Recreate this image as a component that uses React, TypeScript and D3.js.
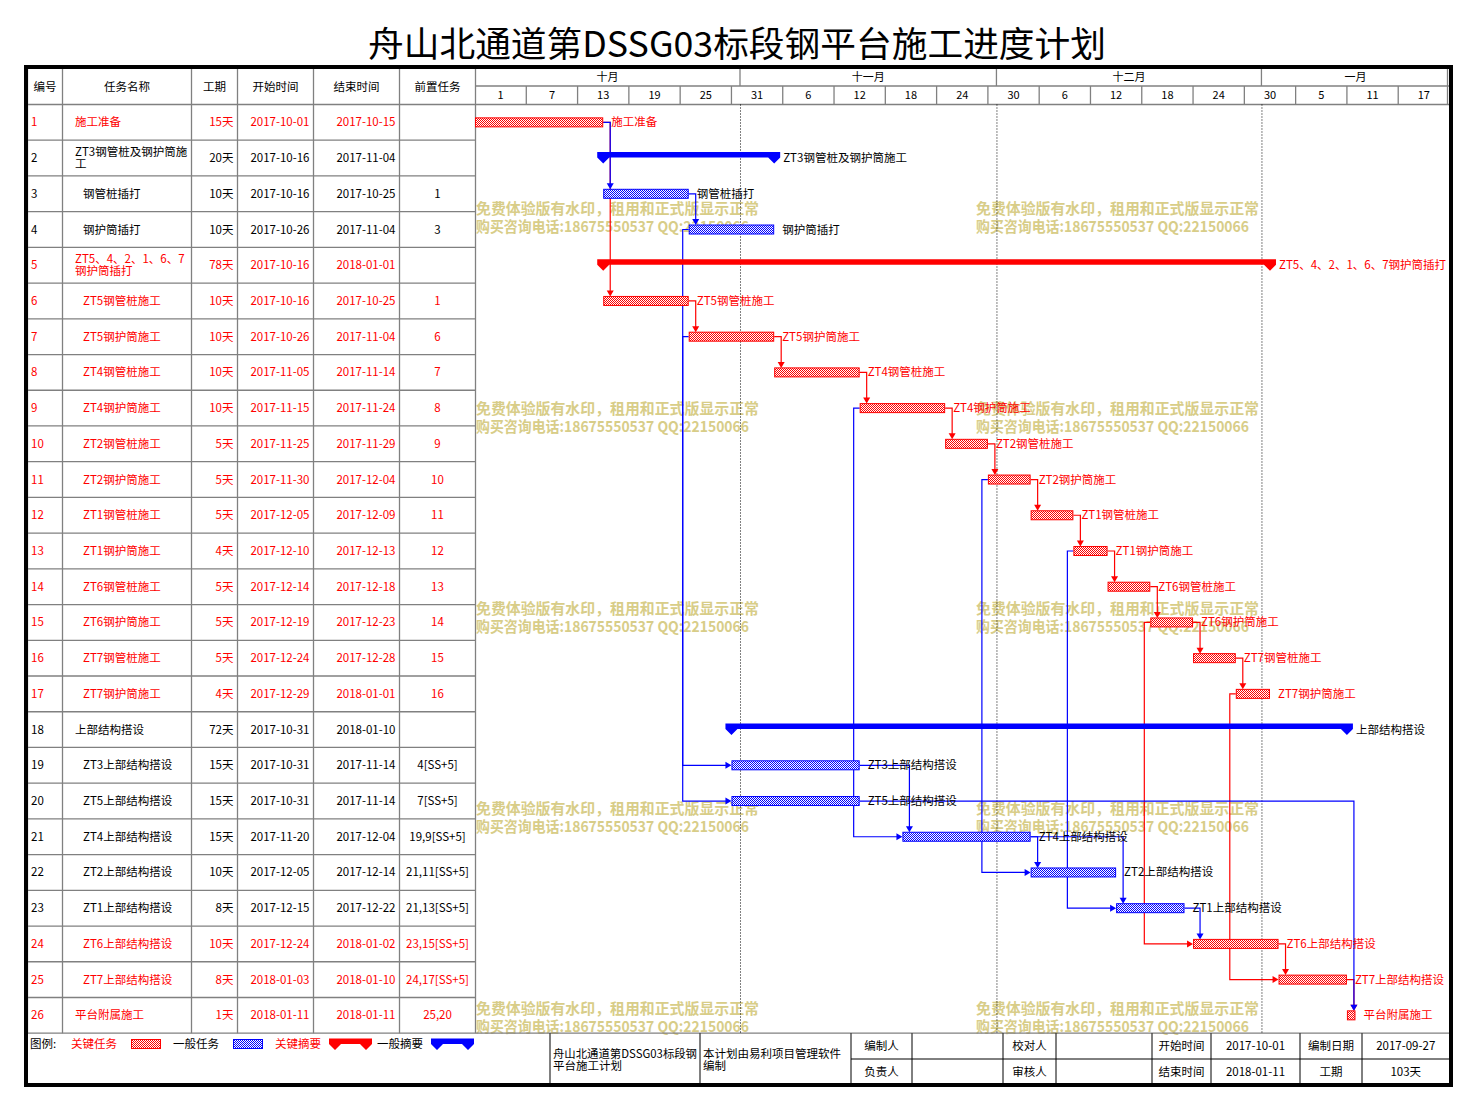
import React from 'react';
import * as d3 from 'd3';

// ---------------- data ----------------
const taskIds = d3.range(1, 27);
const taskNames = ["施工准备", "ZT3钢管桩及钢护筒施工", "钢管桩插打", "钢护筒插打", "ZT5、4、2、1、6、7钢护筒插打", "ZT5钢管桩施工", "ZT5钢护筒施工", "ZT4钢管桩施工", "ZT4钢护筒施工", "ZT2钢管桩施工", "ZT2钢护筒施工", "ZT1钢管桩施工", "ZT1钢护筒施工", "ZT6钢管桩施工", "ZT6钢护筒施工", "ZT7钢管桩施工", "ZT7钢护筒施工", "上部结构搭设", "ZT3上部结构搭设", "ZT5上部结构搭设", "ZT4上部结构搭设", "ZT2上部结构搭设", "ZT1上部结构搭设", "ZT6上部结构搭设", "ZT7上部结构搭设", "平台附属施工"];
const durations = [15, 20, 10, 10, 78, 10, 10, 10, 10, 5, 5, 5, 4, 5, 5, 5, 4, 72, 15, 15, 15, 10, 8, 10, 8, 1];
const startDates = ["2017-10-01", "2017-10-16", "2017-10-16", "2017-10-26", "2017-10-16", "2017-10-16", "2017-10-26", "2017-11-05", "2017-11-15", "2017-11-25", "2017-11-30", "2017-12-05", "2017-12-10", "2017-12-14", "2017-12-19", "2017-12-24", "2017-12-29", "2017-10-31", "2017-10-31", "2017-10-31", "2017-11-20", "2017-12-05", "2017-12-15", "2017-12-24", "2018-01-03", "2018-01-11"];
const endDates = ["2017-10-15", "2017-11-04", "2017-10-25", "2017-11-04", "2018-01-01", "2017-10-25", "2017-11-04", "2017-11-14", "2017-11-24", "2017-11-29", "2017-12-04", "2017-12-09", "2017-12-13", "2017-12-18", "2017-12-23", "2017-12-28", "2018-01-01", "2018-01-10", "2017-11-14", "2017-11-14", "2017-12-04", "2017-12-14", "2017-12-22", "2018-01-02", "2018-01-10", "2018-01-11"];
const predecessors = ["", "", "1", "3", "", "1", "6", "7", "8", "9", "10", "11", "12", "13", "14", "15", "16", "", "4[SS+5]", "7[SS+5]", "19,9[SS+5]", "21,11[SS+5]", "21,13[SS+5]", "23,15[SS+5]", "24,17[SS+5]", "25,20"];
const criticalTasks = [1, 5, 6, 7, 8, 9, 10, 11, 12, 13, 14, 15, 16, 17, 24, 25, 26];
const summaryTasks = [2, 5, 18];
const topLevelTasks = [1, 2, 5, 18, 26];
const columnHeaders = ["编号", "任务名称", "工期", "开始时间", "结束时间", "前置任务"];
const monthLabels = ["十月", "十一月", "十二月", "一月"];
const titleText = "舟山北通道第DSSG03标段钢平台施工进度计划";
const watermarkLines = ["免费体验版有水印，租用和正式版显示正常", "购买咨询电话:18675550537 QQ:22150066"];
const legendItems = [
  { label: "关键任务", kind: "task", critical: true },
  { label: "一般任务", kind: "task", critical: false },
  { label: "关键摘要", kind: "summary", critical: true },
  { label: "一般摘要", kind: "summary", critical: false },
];
const footerProject = ["舟山北通道第DSSG03标段钢", "平台施工计划"];
const footerSoftware = ["本计划由易利项目管理软件", "编制"];
const footerCells = [
  ["编制人", "", "校对人", "", "开始时间", "2017-10-01", "编制日期", "2017-09-27"],
  ["负责人", "", "审核人", "", "结束时间", "2018-01-11", "工期", "103天"],
];

// ---------------- layout ----------------
const FONT = "'Noto Sans CJK SC', 'Noto Sans', sans-serif";
const RED = "#ff0000";
const BLUE = "#0000ff";
const GRID = "#808080";
const colX = [27.5, 62.5, 191.5, 237.5, 313.5, 399.5, 475.5];
const chartLeft = 475;
const chartRight = 1449.5;
const headTop = 68.5;
const monthBottom = 86;
const headBottom = 104.5;
const rowsBottom = 1033.2;
const footBottom = 1083.5;
const footCols = [550, 700, 851, 912, 1003, 1056, 1152, 1211, 1300, 1362, 1449.5];
const footMid = 1059;

const parse = d3.timeParse("%Y-%m-%d");

function wrapName(s: string, maxW: number): string[] {
  const lines: string[] = [];
  let cur = "";
  let w = 0;
  for (const ch of Array.from(s)) {
    const cw = /[\u0000-\u00ff]/.test(ch) ? 6.5 : 12;
    if (w + cw > maxW && cur) {
      lines.push(cur);
      cur = "";
      w = 0;
    }
    cur += ch;
    w += cw;
  }
  if (cur) lines.push(cur);
  return lines;
}

export default function App() {
  const domainStart = parse("2017-10-01")!;
  const domainEnd = d3.timeDay.offset(domainStart, 114);
  const x = d3.scaleTime().domain([domainStart, domainEnd]).range([chartLeft, chartRight]);
  const y = d3.scaleBand<number>().domain(taskIds).range([headBottom, rowsBottom]);
  const bw = y.bandwidth();
  const cy = (id: number) => (y(id) as number) + bw / 2;

  const tasks = taskIds.map((id, i) => {
    const s = parse(startDates[i])!;
    const e = d3.timeDay.offset(parse(endDates[i])!, 1);
    return {
      id,
      name: taskNames[i],
      dur: durations[i],
      startStr: startDates[i],
      endStr: endDates[i],
      pred: predecessors[i],
      x0: x(s),
      x1: x(e),
      critical: criticalTasks.includes(id),
      summary: summaryTasks.includes(id),
      top: topLevelTasks.includes(id),
    };
  });
  const byId = new Map(tasks.map((t) => [t.id, t]));

  // links
  type Link = { d: string; arrow: string; color: string; crit: boolean };
  const links: Link[] = [];
  tasks.forEach((t) => {
    if (!t.pred) return;
    t.pred.split(",").forEach((p) => {
      const ss = p.includes("[SS");
      const pid = parseInt(p, 10);
      const pt = byId.get(pid)!;
      const crit = pt.critical && t.critical;
      const color = crit ? RED : BLUE;
      const yp = cy(pt.id);
      const ys = cy(t.id);
      if (ss) {
        const xv = pt.x0 - 6;
        const d = `M${pt.x0},${yp}H${xv}V${ys}H${t.x0 - 4}`;
        const arrow = `M${t.x0},${ys}L${t.x0 - 6},${ys - 3.5}L${t.x0 - 6},${ys + 3.5}Z`;
        links.push({ d, arrow, color, crit });
      } else {
        const xv = t.x0 + 7;
        const top = ys - 4.5;
        const d = `M${pt.x1},${yp}H${xv}V${top - 4}`;
        const arrow = `M${xv},${top}L${xv - 3.5},${top - 6}L${xv + 3.5},${top - 6}Z`;
        links.push({ d, arrow, color, crit });
      }
    });
  });
  links.sort((a, b) => (a.crit === b.crit ? 0 : a.crit ? -1 : 1));

  const summaryPath = (x0: number, x1: number, c: number) => {
    const t = c - 6;
    const b = c - 0.5;
    return `M${x0 - 6},${t}H${x1 + 6}V${b}L${x1},${c + 5.5}L${x1 - 6},${b}H${x0 + 6}L${x0},${c + 5.5}L${x0 - 6},${b}Z`;
  };

  const dayTicks = d3.range(0, 120, 6).map((d) => d3.timeDay.offset(domainStart, d));
  const monthStarts = d3.timeMonth.range(domainStart, domainEnd);
  const monthLines = monthStarts.slice(1);

  const wmY = [208, 408, 608, 808, 1008];
  const wmX = [476, 976];

  const legendX = [
    { tx: 71, sx: 131 },
    { tx: 173, sx: 233 },
    { tx: 275, sx: 329 },
    { tx: 377, sx: 431 },
  ];

  return (
    <svg width={1475} height={1109} style={{ position: "absolute", left: 0, top: 0, background: "#fff" }} fontFamily={FONT}>
      <defs>
        <pattern id="chkRed" width="2" height="2" patternUnits="userSpaceOnUse">
          <rect width="2" height="2" fill="#fff" />
          <rect width="1" height="1" fill={RED} />
          <rect x="1" y="1" width="1" height="1" fill={RED} />
        </pattern>
        <pattern id="chkBlue" width="2" height="2" patternUnits="userSpaceOnUse">
          <rect width="2" height="2" fill="#fff" />
          <rect width="1" height="1" fill={BLUE} />
          <rect x="1" y="1" width="1" height="1" fill={BLUE} />
        </pattern>
      </defs>
      <rect width={1475} height={1109} fill="#fff" />

      {/* title */}
      <text x={737} y={57} fontSize={35} textAnchor="middle" textLength={738} lengthAdjust="spacingAndGlyphs" fill="#000">
        {titleText}
      </text>

      {/* watermarks */}
      {wmY.map((wy) =>
        wmX.map((wx) => (
          <g key={`${wx}-${wy}`} fill="#d8cd88" fontWeight={700} fontSize={15}>
            <text x={wx} y={wy + 6} textLength={283} lengthAdjust="spacingAndGlyphs">{watermarkLines[0]}</text>
            <text x={wx} y={wy + 24} textLength={273} lengthAdjust="spacingAndGlyphs">{watermarkLines[1]}</text>
          </g>
        ))
      )}

      {/* table grid */}
      <g stroke={GRID} strokeWidth={1.3}>
        {colX.map((cx, i) => (
          <line key={i} x1={cx} x2={cx} y1={headTop} y2={rowsBottom} />
        ))}
        {taskIds.map((id) => (
          <line key={id} x1={colX[0]} x2={colX[6]} y1={y(id)} y2={y(id)} />
        ))}
        <line x1={colX[0]} x2={chartRight} y1={rowsBottom} y2={rowsBottom} />
        <line x1={chartLeft} x2={chartRight} y1={monthBottom} y2={monthBottom} />
        <line x1={chartLeft} x2={chartRight} y1={headBottom} y2={headBottom} />
        {monthStarts.slice(1).map((m, i) => (
          <line key={i} x1={x(m)} x2={x(m)} y1={headTop} y2={monthBottom} />
        ))}
        {dayTicks.slice(1).filter((d) => x(d) < chartRight - 2).map((d, i) => (
          <line key={i} x1={x(d)} x2={x(d)} y1={monthBottom} y2={headBottom} />
        ))}
        <line x1={chartRight - 2} x2={chartRight - 2} y1={headTop} y2={headBottom} />
      </g>

      {/* column headers */}
      <g fontSize={11.5} fill="#000" textAnchor="middle">
        {columnHeaders.map((h, i) => (
          <text key={h} x={(colX[i] + colX[i + 1]) / 2} y={91}>{h}</text>
        ))}
      </g>

      {/* timeline header */}
      <g fontSize={11} fill="#000" textAnchor="middle">
        {monthStarts.map((m, i) => {
          const a = x(m);
          const b = Math.min(i + 1 < monthStarts.length ? x(monthStarts[i + 1]) : chartRight, chartRight);
          return (
            <text key={i} x={(a + b) / 2} y={81}>{monthLabels[i]}</text>
          );
        })}
        {dayTicks.filter((d) => x(d) < chartRight - 10).map((d, i) => {
          const a = x(d);
          const b = Math.min(x(d3.timeDay.offset(d, 6)), chartRight);
          return (
            <text key={i} x={(a + b) / 2} y={99}>{d.getDate()}</text>
          );
        })}
      </g>

      {/* table rows */}
      <g fontSize={11.5}>
        {tasks.map((t) => {
          const c = cy(t.id);
          const col = t.critical ? RED : "#000";
          const nx = t.top ? 75 : 83;
          const lines = wrapName(t.name, colX[2] - nx + 1);
          return (
            <g key={t.id} fill={col}>
              <text x={31} y={c + 4}>{t.id}</text>
              {lines.length === 1 ? (
                <text x={nx} y={c + 4}>{lines[0]}</text>
              ) : (
                lines.map((l, k) => (
                  <text key={k} x={nx} y={c - 2.5 + k * 12}>{l}</text>
                ))
              )}
              <text x={colX[3] - 4} y={c + 4} textAnchor="end">{t.dur}天</text>
              <text x={colX[4] - 4} y={c + 4} textAnchor="end">{t.startStr}</text>
              <text x={colX[5] - 4} y={c + 4} textAnchor="end">{t.endStr}</text>
              <text x={(colX[5] + colX[6]) / 2} y={c + 4} textAnchor="middle">{t.pred}</text>
            </g>
          );
        })}
      </g>

      {/* month dotted lines */}
      <g stroke="#000" strokeWidth={1} strokeDasharray="1,2">
        {monthLines.map((m, i) => (
          <line key={i} x1={x(m) + 0.5} x2={x(m) + 0.5} y1={headBottom} y2={rowsBottom} />
        ))}
      </g>

      {/* links */}
      <g>
        {links.map((l, i) => (
          <g key={i}>
            <path d={l.d} fill="none" stroke={l.color} strokeWidth={1.2} />
            <path d={l.arrow} fill={l.color} />
          </g>
        ))}
      </g>

      {/* bars */}
      <g>
        {tasks.map((t) => {
          const c = cy(t.id);
          const col = t.critical ? RED : BLUE;
          if (t.summary) {
            return <path key={t.id} d={summaryPath(t.x0, t.x1, c)} fill={col} />;
          }
          return (
            <rect key={t.id} x={t.x0 + 0.5} y={c - 4.5} width={Math.max(t.x1 - t.x0 - 1, 1)} height={9}
              fill={t.critical ? "url(#chkRed)" : "url(#chkBlue)"} stroke={col} strokeWidth={1} />
          );
        })}
      </g>

      {/* bar labels */}
      <g fontSize={11.5}>
        {tasks.map((t) => (
          <text key={t.id} x={t.x1 + (t.summary ? 9 : 8)} y={cy(t.id) + 4} fill={t.critical ? RED : "#000"}>{t.name}</text>
        ))}
      </g>

      {/* legend */}
      <g fontSize={11.5}>
        <text x={30} y={1048} fill="#000">图例:</text>
        {legendItems.map((it, i) => {
          const col = it.critical ? RED : BLUE;
          const p = legendX[i];
          return (
            <g key={it.label}>
              <text x={p.tx} y={1048} fill={it.critical ? RED : "#000"}>{it.label}</text>
              {it.kind === "task" ? (
                <rect x={p.sx + 0.5} y={1039.5} width={29} height={9} fill={it.critical ? "url(#chkRed)" : "url(#chkBlue)"} stroke={col} />
              ) : (
                <path d={summaryPath(p.sx + 6, p.sx + 37, 1044.5)} fill={col} />
              )}
            </g>
          );
        })}
      </g>

      {/* footer table */}
      <g stroke="#000" strokeWidth={1}>
        {footCols.slice(0, -1).map((fx, i) => (
          <line key={i} x1={fx} x2={fx} y1={rowsBottom} y2={footBottom} />
        ))}
        <line x1={footCols[2]} x2={chartRight} y1={footMid} y2={footMid} />
      </g>
      <g fontSize={11.5} fill="#000">
        {footerProject.map((l, k) => (
          <text key={k} x={footCols[0] + 3} y={1058 + k * 12} textLength={k === 0 ? 144 : undefined} lengthAdjust="spacingAndGlyphs">{l}</text>
        ))}
        {footerSoftware.map((l, k) => (
          <text key={k} x={footCols[1] + 3} y={1058 + k * 12}>{l}</text>
        ))}
        {footerCells.map((row, r) =>
          row.map((cell, j) => (
            <text key={`${r}-${j}`} x={(footCols[j + 2] + footCols[j + 3]) / 2} y={r === 0 ? 1050 : 1076} textAnchor="middle">{cell}</text>
          ))
        )}
      </g>

      {/* outer frame */}
      <rect x={26} y={67} width={1425} height={1018} fill="none" stroke="#000" strokeWidth={4} />
    </svg>
  );
}
